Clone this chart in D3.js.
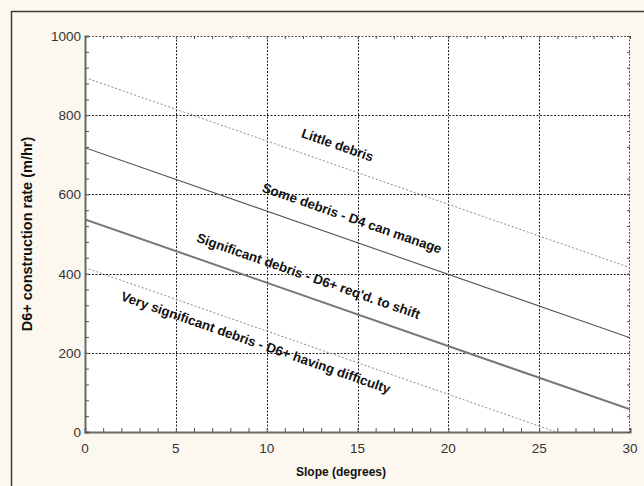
<!DOCTYPE html>
<html>
<head>
<meta charset="utf-8">
<script src="https://cdn.jsdelivr.net/npm/d3@7"></script>
<style>
  html, body { margin: 0; padding: 0; background: #fcf7ef; }
  svg { display: block; }
  text { font-family: "Liberation Sans", Arial, sans-serif; }
</style>
</head>
<body>
<svg id="chart" width="644" height="486"></svg>
<script>
// Slope (degrees) at the two ends of each debris line
const slopes = [0, 30];
// Construction rate (m/hr) at those slopes
const littleDebris = [895, 415];
const someDebris = [718, 238];
const significantDebris = [537, 57];
const verySignificantDebris = [415, -65];

const seriesNames = [
  "Little debris",
  "Some debris - D4 can manage",
  "Significant debris - D6+ req'd. to shift",
  "Very significant debris - D6+ having difficulty"
];

// Label anchors along each line (slope, rate)
const labelSlopes = [13.9, 14.7, 12.3, 9.4];
const labelRates = [725, 540, 394, 226];

const xTicks = [0, 5, 10, 15, 20, 25, 30];
const yTicks = [0, 200, 400, 600, 800, 1000];

const svg = d3.select("#chart");
const W = 644, H = 486;
const pLeft = 85, pRight = 630, pTop = 36, pBottom = 432;

const x = d3.scaleLinear().domain([0, 30]).range([pLeft, pRight]);
const y = d3.scaleLinear().domain([0, 1000]).range([pBottom, pTop]);

// outer frame
svg.append("rect").attr("x", 0).attr("y", 0).attr("width", W).attr("height", H).attr("fill", "#fcf7ef");
svg.append("path")
  .attr("d", `M11.5,${H}V11.5H${W}`)
  .attr("fill", "none").attr("stroke", "#3a3a3a").attr("stroke-width", 1.5);

// plot area
svg.append("rect")
  .attr("x", pLeft).attr("y", pTop).attr("width", pRight - pLeft).attr("height", pBottom - pTop)
  .attr("fill", "#ffffff");

svg.append("defs").append("clipPath").attr("id", "plotclip")
  .append("rect").attr("x", pLeft).attr("y", pTop).attr("width", pRight - pLeft).attr("height", pBottom - pTop);

const gridStyle = g => g.attr("stroke", "#222").attr("stroke-width", 1).attr("stroke-dasharray", "2,1.5").attr("fill", "none");

// grid lines
const grid = svg.append("g");
grid.selectAll("line.vx").data(xTicks.filter(d => d > 0 && d < 30)).join("line")
  .attr("x1", d => Math.round(x(d)) + 0.5).attr("x2", d => Math.round(x(d)) + 0.5)
  .attr("y1", pTop).attr("y2", pBottom)
  .call(gridStyle);
grid.selectAll("line.hy").data(yTicks.filter(d => d > 0 && d < 1000)).join("line")
  .attr("y1", d => Math.round(y(d)) + 0.5).attr("y2", d => Math.round(y(d)) + 0.5)
  .attr("x1", pLeft).attr("x2", pRight)
  .call(gridStyle);
// top and right borders
grid.append("line").attr("x1", pLeft).attr("x2", pRight).attr("y1", pTop + 0.5).attr("y2", pTop + 0.5).call(gridStyle).attr("stroke", "#555");
grid.append("line").attr("x1", pRight - 0.5).attr("x2", pRight - 0.5).attr("y1", pTop).attr("y2", pBottom).call(gridStyle).attr("stroke", "#555");

// debris lines
const lineGen = d3.line().x(d => x(d[0])).y(d => y(d[1]));
const seriesValues = [littleDebris, someDebris, significantDebris, verySignificantDebris];
const lineStyles = [
  { stroke: "#8a8a8a", width: 1, dash: "2,2" },
  { stroke: "#555555", width: 1.1, dash: null },
  { stroke: "#777777", width: 2, dash: null },
  { stroke: "#8a8a8a", width: 1, dash: "2,2" }
];
const lines = svg.append("g").attr("clip-path", "url(#plotclip)");
seriesValues.forEach((vals, i) => {
  lines.append("path")
    .datum(slopes.map((s, j) => [s, vals[j]]))
    .attr("d", lineGen)
    .attr("fill", "none")
    .attr("stroke", lineStyles[i].stroke)
    .attr("stroke-width", lineStyles[i].width)
    .attr("stroke-dasharray", lineStyles[i].dash);
});

// axes with inward minor ticks
const xAxis = d3.axisBottom(x).tickValues(d3.range(0, 31, 1)).tickSize(-4).tickFormat("");
const yAxis = d3.axisLeft(y).tickValues(d3.range(0, 1001, 40)).tickSize(-4).tickFormat("");
const gx = svg.append("g").attr("transform", `translate(0,${pBottom})`).call(xAxis);
const gy = svg.append("g").attr("transform", `translate(${pLeft},0)`).call(yAxis);
[gx, gy].forEach(g => {
  g.select(".domain").attr("stroke", "#6a6a6a").attr("stroke-width", 2);
  g.selectAll(".tick line").attr("stroke", "#555");
});
// inward ticks on top and right
const xTop = d3.axisTop(x).tickValues(d3.range(0, 31, 1)).tickSize(-3).tickFormat("");
const yRight = d3.axisRight(y).tickValues(d3.range(0, 1001, 40)).tickSize(-3).tickFormat("");
const gt = svg.append("g").attr("transform", `translate(0,${pTop})`).call(xTop);
const gr = svg.append("g").attr("transform", `translate(${pRight},0)`).call(yRight);
[gt, gr].forEach(g => {
  g.select(".domain").remove();
  g.selectAll(".tick line").attr("stroke", "#555");
});

// tick labels
svg.append("g").selectAll("text").data(xTicks).join("text")
  .attr("x", d => x(d)).attr("y", pBottom + 21)
  .attr("text-anchor", "middle")
  .attr("font-size", 13.5).attr("fill", "#333")
  .text(d => d);
svg.append("g").selectAll("text").data(yTicks).join("text")
  .attr("x", pLeft - 4).attr("y", d => y(d) + 5)
  .attr("text-anchor", "end")
  .attr("font-size", 13.5).attr("fill", "#333")
  .text(d => d);

// axis titles
svg.append("text")
  .attr("x", 341).attr("y", 476)
  .attr("text-anchor", "middle")
  .attr("font-size", 12).attr("font-weight", "bold").attr("fill", "#111")
  .text("Slope (degrees)");
svg.append("text")
  .attr("transform", `translate(32,${(pTop + pBottom) / 2}) rotate(-90)`)
  .attr("text-anchor", "middle")
  .attr("font-size", 14.5).attr("font-weight", "bold").attr("fill", "#111")
  .text("D6+ construction rate (m/hr)");

// labels running along the lines
const slopeRate = (someDebris[1] - someDebris[0]) / (slopes[1] - slopes[0]);
const angle = Math.atan2(y(slopeRate) - y(0), x(1) - x(0)) * 180 / Math.PI;
svg.append("g").selectAll("text").data(seriesNames).join("text")
  .attr("transform", (d, i) => `translate(${x(labelSlopes[i])},${y(labelRates[i])}) rotate(${angle})`)
  .attr("text-anchor", "middle")
  .attr("dy", "0.35em")
  .attr("font-size", 13.3).attr("font-weight", "bold").attr("fill", "#111")
  .text(d => d);
</script>
</body>
</html>
